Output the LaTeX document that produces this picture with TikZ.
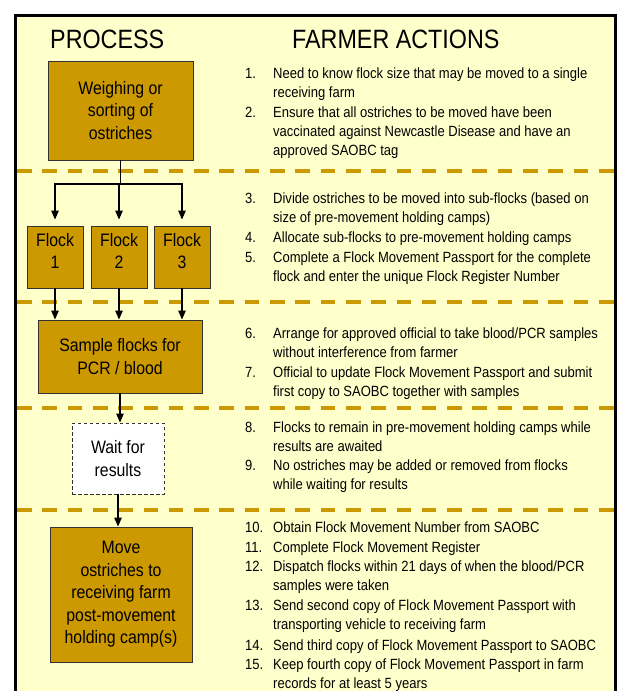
\documentclass[tikz,border=0pt]{standalone}
\usepackage{fontspec}
\setmainfont[FakeStretch=0.88]{Liberation Sans}
\usepackage{tikz}
\usepackage{xcolor}
\usetikzlibrary{arrows.meta}
\definecolor{panel-yellow}{HTML}{FFFFCC}
\definecolor{ochre}{HTML}{CC9900}
\newcommand{\actlines}[1]{\begin{tabular}[t]{@{}l@{}}#1\end{tabular}}
\tikzset{
    process-box/.style = {draw=black!80, fill=ochre, line width=0.9pt, rectangle, inner sep=2pt, align=center, font=\fontsize{18}{22.5}\selectfont},
    flock-box/.style = {process-box, minimum width=56pt, minimum height=62pt, text depth=12pt},
    wait-box/.style = {process-box, fill=white, dash pattern=on 3.5pt off 2.5pt},
    heading/.style = {inner sep=0pt, anchor=base west, font=\fontsize{26.5}{30}\selectfont},
    action-num/.style = {inner sep=0pt, anchor=base west, font=\fontsize{14.8}{19.4}\selectfont},
    action-text/.style = {action-num},
    section-rule/.style = {draw=ochre, line width=3.6pt, dash pattern=on 14.6pt off 10.7pt},
    flow-arrow/.style = {draw=black, line width=1.2pt, -{Triangle[length=9pt,width=7.5pt]}},
}

\begin{document}
\begin{tikzpicture}[x=1pt,y=-1pt]
\useasboundingbox (0,0) rectangle (620,691);
\fill[panel-yellow] (15.5,15) rectangle (615.5,691);
\draw[line width=3pt] (15.5,692) -- (15.5,15) -- (615.5,15) -- (615.5,692);
\foreach \y in {171,302,408,510}
    \draw[section-rule] (17,\y) -- (614,\y);

\node[heading] (process) at (50,48.3) {PROCESS};
\node[heading] (actions) at (292,48.3) {FARMER ACTIONS};

\node[process-box, minimum width=145pt, minimum height=99pt] (weigh) at (120.5,110.5) {Weighing or\\sorting of\\ostriches};
\node[flock-box] (flock1) at (55,257) {Flock\\1};
\node[flock-box] (flock2) at (119,257) {Flock\\2};
\node[flock-box] (flock3) at (182,257) {Flock\\3};
\node[process-box, minimum width=164pt, minimum height=73pt] (sample) at (120,356.5) {Sample flocks for\\PCR / blood};
\node[wait-box, minimum width=92pt, minimum height=71pt] (wait) at (118,458.5) {Wait for\\results};
\node[process-box, minimum width=142pt, minimum height=135pt] (move) at (121,594.5) {Move\\ostriches to\\receiving farm\\post-movement\\holding camp(s)};

\coordinate (branch) at (120.5,184);
\draw[line width=1.2pt] (weigh.south) -- (branch);
\draw[flow-arrow, shorten >=6pt] (branch) -| (flock1.north);
\draw[flow-arrow, shorten >=6pt] (branch) -- (branch -| flock2.north) -- (flock2.north);
\draw[flow-arrow, shorten >=6pt] (branch) -| (flock3.north);
\draw[flow-arrow] (flock1.south) -- (flock1.south |- sample.north);
\draw[flow-arrow] (flock2.south) -- (flock2.south |- sample.north);
\draw[flow-arrow] (flock3.south) -- (flock3.south |- sample.north);
\draw[flow-arrow] (sample.south) -- (sample.south |- wait.north);
\draw[flow-arrow] (wait.south) -- (wait.south |- move.north);

\foreach \n/\y/\t in {
    1/78/{Need to know flock size that may be moved to a single\\receiving farm},
    2/117/{Ensure that all ostriches to be moved have been\\vaccinated against Newcastle Disease and have an\\approved SAOBC tag},
    3/203/{Divide ostriches to be moved into sub-flocks (based on\\size of pre-movement holding camps)},
    4/242/{Allocate sub-flocks to pre-movement holding camps},
    5/262/{Complete a Flock Movement Passport for the complete\\flock and enter the unique Flock Register Number},
    6/338/{Arrange for approved official to take blood/PCR samples\\without interference from farmer},
    7/377/{Official to update Flock Movement Passport and submit\\first copy to SAOBC together with samples},
    8/432/{Flocks to remain in pre-movement holding camps while\\results are awaited},
    9/470/{No ostriches may be added or removed from flocks\\while waiting for results},
    10/532/{Obtain Flock Movement Number from SAOBC},
    11/552/{Complete Flock Movement Register},
    12/571/{Dispatch flocks within 21 days of when the blood/PCR\\samples were taken},
    13/610/{Send second copy of Flock Movement Passport with\\transporting vehicle to receiving farm},
    14/650/{Send third copy of Flock Movement Passport to SAOBC},
    15/669/{Keep fourth copy of Flock Movement Passport in farm\\records for at least 5 years}}
{
    \node[action-num] (num-\n) at (245,\y) {\n.};
    \node[action-text] (act-\n) at (273,\y) {\actlines{\t}};
}
\end{tikzpicture}
\end{document}
